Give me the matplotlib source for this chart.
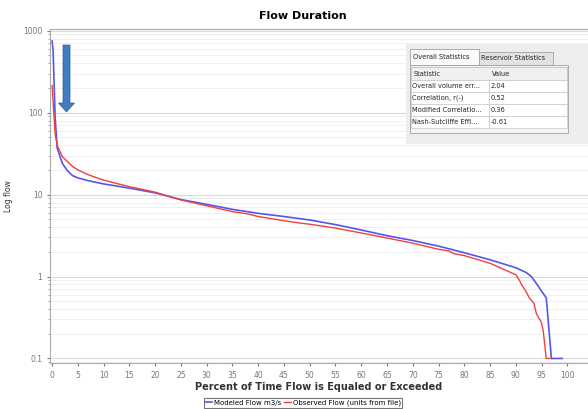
import numpy as np
import matplotlib.pyplot as plt
from matplotlib.patches import Rectangle, FancyArrow

# flow duration values
mod_pct = [0, 0.2, 0.6, 1, 2, 3, 4, 5, 7, 10, 15, 20, 25, 30, 35, 40, 45, 50, 55, 60,
           65, 70, 75, 80, 85, 90, 92, 93, 94, 95, 95.9, 96.9, 99]
mod_flow = [750, 575, 87, 37, 24, 19.5, 17, 16, 14.8, 13.5, 12, 10.5, 8.7, 7.6, 6.6, 5.9,
            5.4, 4.9, 4.3, 3.7, 3.15, 2.75, 2.35, 1.95, 1.6, 1.28, 1.12, 1.0, 0.82, 0.66,
            0.55, 0.1, 0.1]
obs_pct = [0, 0.6, 1, 2, 4, 5, 7, 10, 15, 20, 25, 30, 35, 38, 40, 45, 48, 50, 55, 60, 65,
           70, 75, 77, 78, 80, 85, 90, 90.6, 91.1, 92, 92.6, 93.5, 94, 94.9, 95.3, 95.9, 96.9]
obs_flow = [215, 55, 40, 29, 22, 20, 17.5, 15, 12.5, 10.7, 8.6, 7.3, 6.2, 5.8, 5.4, 4.8,
            4.5, 4.35, 3.9, 3.4, 2.95, 2.55, 2.15, 2.05, 1.9, 1.8, 1.45, 1.05, 0.92, 0.8,
            0.65, 0.55, 0.47, 0.35, 0.28, 0.22, 0.1, 0.1]

stat_names = ["Overall volume err...", "Correlation, r(-)", "Modified Correlatio...",
              "Nash-Sutcliffe Effi..."]
stat_values = ["2.04", "0.52", "0.36", "-0.61"]

W, H = 588, 409
fig = plt.figure(figsize=(5.88, 4.09), dpi=100)
ax = fig.add_axes([50 / W, 1 - 363 / H, 538 / W, 334 / H])

ax.plot(mod_pct, mod_flow, color="#5555ee", lw=1.2, label="Modeled Flow m3/s")
ax.plot(obs_pct, obs_flow, color="#f04040", lw=1.0, label="Observed Flow (units from file)")
ax.set_yscale("log")
ax.set_ylim(0.088, 1050)
ax.set_xlim(-0.4, 104)
ax.set_xticks(np.arange(0, 101, 5))
ax.set_yticks([0.1, 1, 10, 100, 1000])
ax.set_yticklabels(["0.1", "1", "10", "100", "1000"])
ax.tick_params(labelsize=5.5, colors="#777777", length=2)
ax.tick_params(which="minor", length=1.5, colors="#999999")
ax.grid(True, which="major", axis="y", color="#d8d8d8", lw=0.8)
ax.grid(True, which="minor", axis="y", color="#ececec", lw=0.6)
for s in ax.spines.values():
    s.set_color("#aaaaaa")
ax.spines["right"].set_visible(False)

ax.set_xlabel("Percent of Time Flow is Equaled or Exceeded", fontsize=7,
              fontweight="bold", color="#333333", labelpad=2)
ax.set_ylabel("Log flow", fontsize=5.5, color="#333333", labelpad=7)
fig.text(303 / W, 1 - 16 / H, "Flow Duration", ha="center", va="center",
         fontsize=8, fontweight="bold")

# blue arrow
fig.add_artist(FancyArrow(66.5 / W, 1 - 45 / H, 0, -(67 / H), width=7 / W,
                          head_width=16 / W, head_length=9 / H, length_includes_head=True,
                          transform=fig.transFigure, color="#3f7cc0", ec="#2e5f99", lw=0.5))

# statistics panel
def box(x0, y0, x1, y1, fc, ec="none", lw=0.6):
    fig.add_artist(Rectangle((x0 / W, 1 - y1 / H), (x1 - x0) / W, (y1 - y0) / H,
                             transform=fig.transFigure, fc=fc, ec=ec, lw=lw))

def txt(x, y, s, **kw):
    fig.text(x / W, 1 - y / H, s, fontsize=4.8, va="center", color="#222222", **kw)

box(406, 44, 588, 144, "#ededed")
box(479, 52, 553, 65, "#e2e2e2", "#a0a0a0")
box(410, 49, 479, 65, "#fafafa", "#a0a0a0")
txt(413, 57, "Overall Statistics")
txt(481, 58.5, "Reservoir Statistics")
box(410, 65, 568, 133, "#f4f4f4", "#a0a0a0")
box(411, 67, 567, 80, "#f0f0f0", "#c0c0c0")
txt(414, 74, "Statistic")
txt(492, 74, "Value")
for i in range(len(stat_names)):
    y0 = 80 + 12 * i
    box(411, y0, 489, y0 + 12, "white", "#c8c8c8", 0.5)
    box(489, y0, 567, y0 + 12, "white", "#c8c8c8", 0.5)
    txt(411.5, y0 + 6, stat_names[i])
    txt(490.5, y0 + 6, stat_values[i])

leg = fig.legend(loc="center", bbox_to_anchor=(303 / W, 1 - 403 / H), ncol=2, fontsize=5,
                 frameon=True, fancybox=False, edgecolor="#555555", handlelength=1.0,
                 handletextpad=0.3, columnspacing=0.4, borderpad=0.2)
leg.get_frame().set_linewidth(0.8)

fig.savefig("out.png", dpi=100)
